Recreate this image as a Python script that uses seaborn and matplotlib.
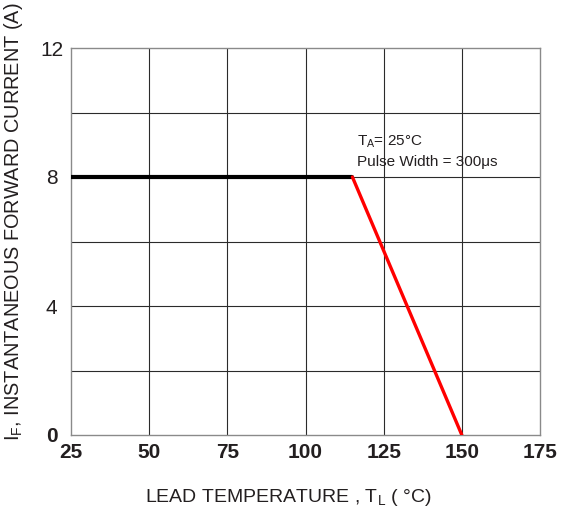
import numpy as np
import pandas as pd
import matplotlib
matplotlib.use('Agg')
import matplotlib.pyplot as plt
import seaborn as sns

# derating curve: flat rated current, then linear drop to zero
flat_temp = [25, 115]
flat_current = [8, 8]
derate_temp = [115, 150]
derate_current = [8, 0]

x_ticks = [25, 50, 75, 100, 125, 150, 175]
y_ticks = [0, 4, 8, 12]
y_grid = [2, 4, 6, 8, 10]

sns.set_style('white')
plt.rcParams['font.family'] = ['Liberation Sans', 'DejaVu Sans']
plt.rcParams['mathtext.default'] = 'regular'

text_color = '#231f20'

fig = plt.figure(figsize=(5.63, 5.17), dpi=100)
ax = fig.add_axes([71 / 563, 1 - 435 / 517, 469 / 563, 387 / 517])

for xv in x_ticks[1:-1]:
    ax.axvline(xv, color='#2b2b2b', lw=0.8, zorder=1)
for yv in y_grid:
    ax.axhline(yv, color='#2b2b2b', lw=0.8, zorder=1)

flat = pd.DataFrame({'temp': flat_temp, 'current': flat_current})
derate = pd.DataFrame({'temp': derate_temp, 'current': derate_current})
sns.lineplot(data=flat, x='temp', y='current', color='black', lw=3.0, ax=ax, zorder=3)
sns.lineplot(data=derate, x='temp', y='current', color='#ff0000', lw=2.4, ax=ax, zorder=3)

ax.set_xlim(25, 175)
ax.set_ylim(0, 12)
ax.set_xticks(x_ticks)
ax.set_yticks(y_ticks)
ax.set_xticklabels([str(v) for v in x_ticks], fontsize=15, fontweight='bold', color=text_color)
ax.set_yticklabels([str(v) for v in y_ticks], fontsize=15, color=text_color)
ax.get_yticklabels()[0].set_fontweight('bold')
for lab in ax.get_yticklabels():
    lab.set_ha('center')
ax.tick_params(axis='x', length=0, pad=6)
ax.tick_params(axis='y', length=0, pad=14)

for sp in ax.spines.values():
    sp.set_color('#8a8a8a')
    sp.set_linewidth(1.0)

ax.set_xlabel('LEAD TEMPERATURE , T$_L$ ( °C)', fontsize=14, color=text_color)
ax.xaxis.set_label_coords(0.463, -0.135)
ax.set_ylabel('I$_F$, INSTANTANEOUS FORWARD CURRENT (A)', fontsize=14.3, color=text_color)
ax.yaxis.set_label_coords(-0.098, 0.55)

ax.text(116.5, 9.08, 'T$_A$= 25°C', fontsize=11, color=text_color, va='center', ha='left')
ax.text(116.5, 8.47, 'Pulse Width = 300μs', fontsize=11, color=text_color, va='center', ha='left')

fig.savefig('out.png', dpi=100)
